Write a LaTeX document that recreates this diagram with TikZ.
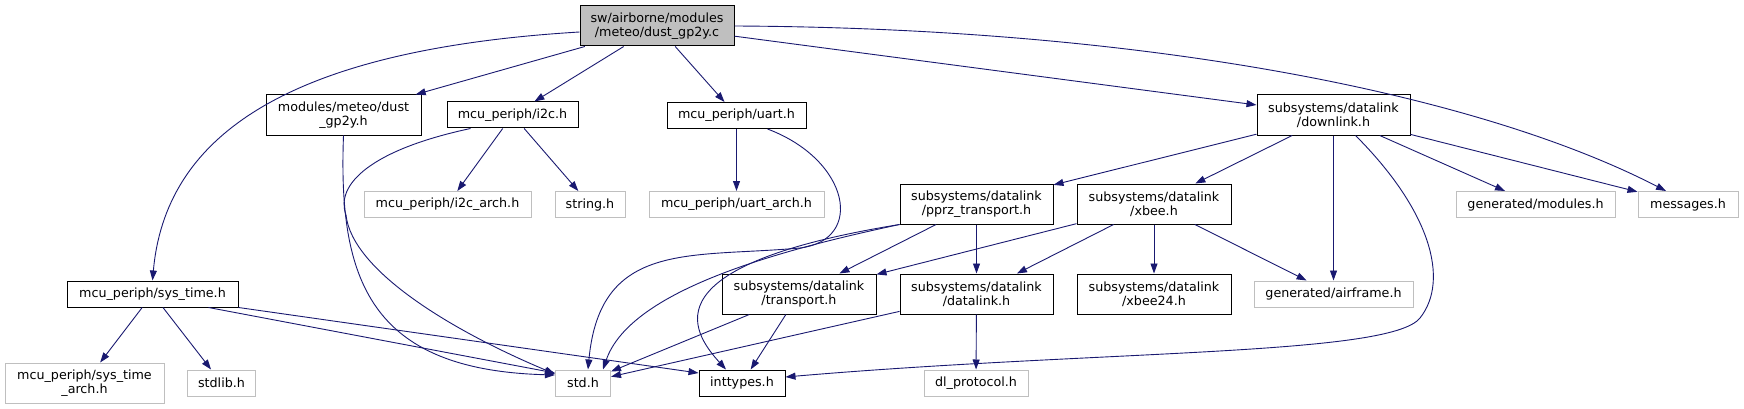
\documentclass[tikz,border=0pt]{standalone}
\usepackage{fontspec}
\setmainfont{DejaVu Sans}
\usetikzlibrary{arrows.meta}
\definecolor{edgeblue}{HTML}{191970}
\definecolor{boxgray}{HTML}{BFBFBF}

\begin{document}
\begin{tikzpicture}[x=1pt,y=-1pt,
  font=\fontsize{12.7}{14.4}\selectfont,
  hdr/.style={draw=black,line width=1pt,fill=white,inner sep=0pt,align=center,minimum height=26pt},
  hdrtwo/.style={hdr,minimum height=40pt},
  ext/.style={hdr,draw=boxgray},
  exttwo/.style={ext,minimum height=40pt},
  inc/.style={draw=edgeblue,line width=0.9pt,-{Triangle[length=10pt,width=7pt]}}]
  \useasboundingbox (0,0) rectangle (1744,409);
  % Source file
  \node[hdrtwo,fill=boxgray,minimum width=154pt] (root) at (657,26) {sw/airborne/modules\\/meteo/dust\_gp2y.c};
  % First row of headers
  \node[hdrtwo,minimum width=155pt] (dusth) at (343.5,115) {modules/meteo/dust\\\_gp2y.h};
  \node[hdr,minimum width=131pt] (i2ch) at (512.5,115) {mcu\_periph/i2c.h};
  \node[hdr,minimum width=139pt] (uarth) at (736.5,115.5) {mcu\_periph/uart.h};
  \node[hdrtwo,minimum width=153pt] (downlink) at (1333.5,115) {subsystems/datalink\\/downlink.h};
  % Second row
  \node[ext,minimum width=167pt] (i2carch) at (447.5,204.5) {mcu\_periph/i2c\_arch.h};
  \node[ext,minimum width=70pt] (stringh) at (590,204.5) {string.h};
  \node[ext,minimum width=175pt] (uartarch) at (736.5,204.5) {mcu\_periph/uart\_arch.h};
  \node[hdrtwo,minimum width=153pt] (pprz) at (976.5,204) {subsystems/datalink\\/pprz\_transport.h};
  \node[hdrtwo,minimum width=154pt] (xbee) at (1154,204) {subsystems/datalink\\/xbee.h};
  \node[ext,minimum width=159pt] (modules) at (1535.5,204.5) {generated/modules.h};
  \node[ext,minimum width=100pt] (messages) at (1688,204.5) {messages.h};
  % Third row
  \node[hdr,minimum width=171pt] (systime) at (152.5,294) {mcu\_periph/sys\_time.h};
  \node[hdrtwo,minimum width=154pt] (transport) at (799,294) {subsystems/datalink\\/transport.h};
  \node[hdrtwo,minimum width=153pt] (datalink) at (976.5,294) {subsystems/datalink\\/datalink.h};
  \node[hdrtwo,minimum width=154pt] (xbeetf) at (1154,294) {subsystems/datalink\\/xbee24.h};
  \node[ext,minimum width=159pt] (airframe) at (1333.5,294) {generated/airframe.h};
  % Bottom row
  \node[exttwo,minimum width=159pt] (systimearch) at (84.5,383) {mcu\_periph/sys\_time\\\_arch.h};
  \node[ext,minimum width=68pt] (stdlibh) at (221.5,383) {stdlib.h};
  \node[ext,minimum width=55pt] (stdh) at (583,383) {std.h};
  \node[hdr,minimum width=86pt] (inttypes) at (742,383) {inttypes.h};
  \node[ext,minimum width=104pt] (dlproto) at (976,383) {dl\_protocol.h};
  % Includes of the source file
  \draw[inc] ([yshift=-6pt]root.west) .. controls (280,50) and (165,140) .. (systime.north);
  \draw[inc] (root) -- (dusth);
  \draw[inc] (root) -- (i2ch);
  \draw[inc] (root) -- (uarth);
  \draw[inc] (root) -- (downlink);
  \draw[inc] (root.east) .. controls (1150,28) and (1480,95) .. ([xshift=-22pt]messages.north);
  % Peripheral headers
  \draw[inc] (dusth.south) .. controls (338,280) and (370,370) .. ([yshift=8pt]stdh.west);
  \draw[inc] ([xshift=-42pt]i2ch.south) .. controls (370,150) and (335,185) .. (346,215)
    .. controls (352,270) and (450,330) .. ([yshift=9pt]stdh.west);
  \draw[inc] (i2ch) -- (i2carch);
  \draw[inc] (i2ch) -- (stringh);
  \draw[inc] (uarth) -- (uartarch);
  \draw[inc] ([xshift=31pt]uarth.south) .. controls (850,160) and (865,240) .. (800,248)
    .. controls (690,258) and (600,240) .. ([xshift=5pt]stdh.north);
  \draw[inc] (systime) -- (systimearch);
  \draw[inc] (systime) -- (stdlibh);
  \draw[inc] ([xshift=56pt]systime.south) -- ([yshift=10pt]stdh.west);
  \draw[inc] (systime.south east) -- ([yshift=10pt]inttypes.west);
  % Downlink headers
  \draw[inc] (downlink) -- (pprz);
  \draw[inc] (downlink) -- (xbee);
  \draw[inc] (downlink) -- (airframe);
  \draw[inc] (downlink) -- (modules);
  \draw[inc] (downlink) -- (messages);
  \draw[inc] ([xshift=22pt]downlink.south) .. controls (1430,210) and (1450,280) .. (1420,318)
    .. controls (1390,356) and (1100,350) .. ([yshift=6pt]inttypes.east);
  % Transport layers
  \draw[inc] (pprz.south west) .. controls (780,250) and (630,290) .. ([xshift=20pt]stdh.north);
  \draw[inc] (pprz.south west) .. controls (650,265) and (690,330) .. ([xshift=-16pt]inttypes.north);
  \draw[inc] (pprz) -- (transport);
  \draw[inc] (pprz) -- (datalink);
  \draw[inc] (xbee) -- (transport);
  \draw[inc] (xbee) -- (datalink);
  \draw[inc] (xbee) -- (xbeetf);
  \draw[inc] (xbee) -- (airframe);
  \draw[inc] (transport) -- (stdh);
  \draw[inc] (transport) -- (inttypes);
  \draw[inc] (datalink) -- (stdh);
  \draw[inc] (datalink) -- (dlproto);
\end{tikzpicture}
\end{document}
